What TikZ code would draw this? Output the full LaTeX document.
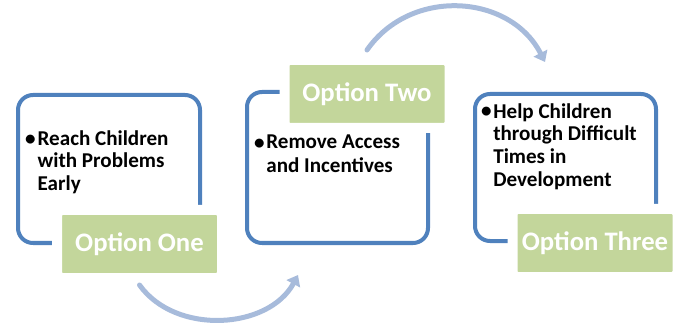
\documentclass[tikz,border=0pt]{standalone}
\usepackage{fontspec}
\setmainfont{Carlito}
\usetikzlibrary{arrows.meta}

\definecolor{cardblue}{RGB}{79,129,189}
\definecolor{taggreen}{RGB}{195,214,155}
\definecolor{flowblue}{RGB}{167,187,219}

\tikzset{
    card/.style={draw=cardblue, line width=0.08cm, rounded corners=0.3cm, fill=white},
    tag/.style={fill=taggreen, draw=white, line width=0.2cm, rounded corners=0.1cm,
        minimum width=3.3cm, minimum height=1.36cm, text=white,
        font=\fontsize{15.2}{18}\selectfont\bfseries},
    point/.style={anchor=north west, inner sep=0, align=left,
        font=\fontsize{12}{13}\selectfont\bfseries},
    dot/.style={anchor=base east, inner sep=0, font=\fontsize{12}{13}\selectfont\bfseries},
    flow/.style={draw=flowblue, line width=0.1cm, -{Triangle[length=0.2cm, width=0.3cm]}}
}

\begin{document}
\begin{tikzpicture}[line cap=round, line join=round, x=1cm, y=1cm]

    \useasboundingbox (0,0) rectangle (13.62,6.52);

    % the three option cards
    \draw[card] (0.36,1.66) rectangle (4.0,4.62);
    \draw[card] (4.94,1.66) rectangle (8.56,4.68);
    \draw[card] (9.5,1.7) rectangle (13.12,4.64);

    % bullet points
    \node[dot] (b1) at (0.72,3.62) {\textbullet};
    \node[point] (p1) at (0.746,3.92) {Reach Children\\with Problems\\Early};

    \node[dot] (b2) at (5.3,3.54) {\textbullet};
    \node[point] (p2) at (5.32,3.84) {Remove Access\\[1pt]and Incentives};

    \node[dot] (b3) at (9.84,4.16) {\textbullet};
    \node[point] (p3) at (9.86,4.46) {Help Children\\through Difficult\\Times in\\Development};

    % green labels
    \node[tag] (opt1) at (2.79,1.64) {Option One};
    \node[tag] (opt2) at (7.34,4.64) {Option Two};
    \node[tag] (opt3) at (11.9,1.66) {Option Three};

    % arrows between the cards
    \coordinate (c2) at (5.96,1.02);
    \coordinate (c3) at (10.9,5.28);
    \draw[flow] ([yshift=-0.04cm]opt1.south) to[bend right=58] (c2);
    \draw[flow] ([yshift=0.1cm]opt2.north) to[bend left=59, looseness=1.1] (c3);

\end{tikzpicture}
\end{document}
